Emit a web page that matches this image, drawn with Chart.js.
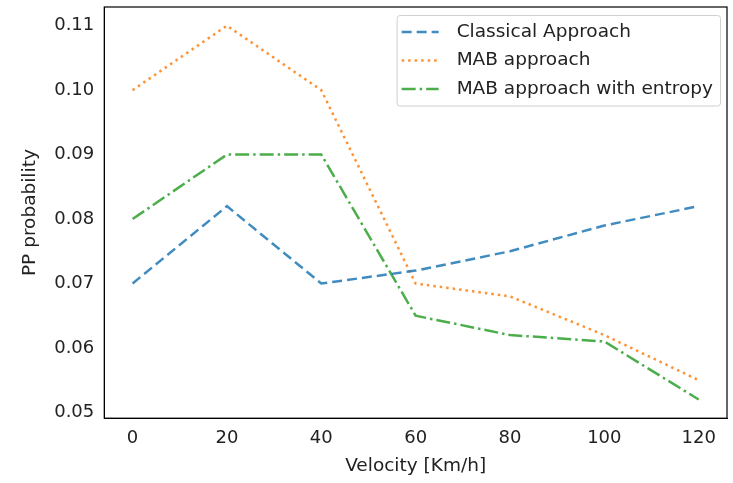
<!DOCTYPE html>
<html><head><meta charset="utf-8">
<script src="https://cdn.jsdelivr.net/npm/chart.js@4"></script>
<style>html,body{margin:0;padding:0;background:#fff}</style>
</head><body>
<canvas id="c" width="733" height="483"></canvas>
<script>
const velocities = [0, 20, 40, 60, 80, 100, 120];
const classical = [0.070, 0.082, 0.070, 0.072, 0.075, 0.079, 0.082];
const mab = [0.100, 0.110, 0.100, 0.070, 0.068, 0.062, 0.055];
const mabEntropy = [0.080, 0.090, 0.090, 0.065, 0.062, 0.061, 0.052];
const seriesNames = ['Classical Approach', 'MAB approach', 'MAB approach with entropy'];
const xTicks = [0, 20, 40, 60, 80, 100, 120];
const yTicks = [0.05, 0.06, 0.07, 0.08, 0.09, 0.10, 0.11];

const FONT = 'DejaVu Sans';
const pts = arr => arr.map((v, i) => ({x: velocities[i], y: v}));

const frame = {
  id: 'frame',
  afterDatasetsDraw(chart) {
    const a = chart.chartArea, ctx = chart.ctx;
    ctx.save();
    ctx.strokeStyle = '#000'; ctx.lineWidth = 1.2;
    ctx.strokeRect(a.left, a.top, a.right - a.left, a.bottom - a.top);
    const ds = chart.data.datasets;
    ctx.font = '18.5px ' + FONT;
    let tw = 0; ds.forEach(d => tw = Math.max(tw, ctx.measureText(d.label).width));
    const lineH = 28.5, w = tw + 67, h = ds.length * lineH + 5;
    const x0 = a.right - 7 - w, y0 = a.top + 8;
    ctx.fillStyle = 'rgba(255,255,255,0.8)';
    ctx.strokeStyle = '#d0d0d0'; ctx.lineWidth = 1;
    ctx.beginPath();
    if (ctx.roundRect) ctx.roundRect(x0 + 0.5, y0 + 0.5, w, h, 3); else ctx.rect(x0 + 0.5, y0 + 0.5, w, h);
    ctx.fill(); ctx.stroke();
    ds.forEach((d, i) => {
      const yy = y0 + 17 + i * lineH;
      ctx.strokeStyle = d.borderColor; ctx.lineWidth = d.borderWidth;
      ctx.setLineDash(d.borderDash);
      ctx.beginPath(); ctx.moveTo(x0 + 5, yy); ctx.lineTo(x0 + 42, yy); ctx.stroke();
      ctx.setLineDash([]);
      ctx.fillStyle = '#222'; ctx.textBaseline = 'middle'; ctx.textAlign = 'left';
      ctx.fillText(d.label, x0 + 60, yy);
    });
    ctx.restore();
  }
};

new Chart(document.getElementById('c'), {
  type: 'line',
  data: {
    datasets: [
      {label: seriesNames[0], data: pts(classical), borderColor: 'rgba(31,119,180,0.85)', borderWidth: 2.5, borderDash: [10, 5]},
      {label: seriesNames[1], data: pts(mab), borderColor: 'rgba(255,127,14,0.85)', borderWidth: 2.5, borderDash: [2.5, 4]},
      {label: seriesNames[2], data: pts(mabEntropy), borderColor: 'rgba(44,160,44,0.85)', borderWidth: 2.5, borderDash: [14, 4, 2.5, 4]}
    ].map(d => Object.assign(d, {pointRadius: 0, fill: false, tension: 0, borderCapStyle: 'butt'}))
  },
  options: {
    responsive: false, animation: false,
    layout: {padding: {left: 19, right: 6, top: 7, bottom: 6}},
    plugins: {legend: {display: false}, tooltip: {enabled: false}},
    scales: {
      x: {
        type: 'linear', min: -6, max: 126,
        afterBuildTicks: ax => { ax.ticks = xTicks.map(v => ({value: v})); },
        grid: {display: false, drawTicks: true, tickLength: 5, tickColor: '#000'},
        border: {display: true, color: '#000'},
        ticks: {color: '#222', font: {family: FONT, size: 18}, padding: 4, maxRotation: 0},
        title: {display: true, text: 'Velocity [Km/h]', color: '#222', font: {family: FONT, size: 18.5}, padding: {top: 2, bottom: 0}}
      },
      y: {
        type: 'linear', min: 0.0491, max: 0.1129,
        afterBuildTicks: ax => { ax.ticks = yTicks.map(v => ({value: v})); },
        afterFit: ax => { ax.paddingTop = 0; ax.paddingBottom = 0; },
        grid: {display: false, drawTicks: true, tickLength: 5, tickColor: '#000'},
        border: {display: true, color: '#000'},
        ticks: {color: '#222', font: {family: FONT, size: 18}, padding: 5, callback: v => v.toFixed(2)},
        title: {display: true, text: 'PP probability', color: '#222', font: {family: FONT, size: 18.5}, padding: {top: 0, bottom: 8}}
      }
    }
  },
  plugins: [frame]
});
</script>
</body></html>
